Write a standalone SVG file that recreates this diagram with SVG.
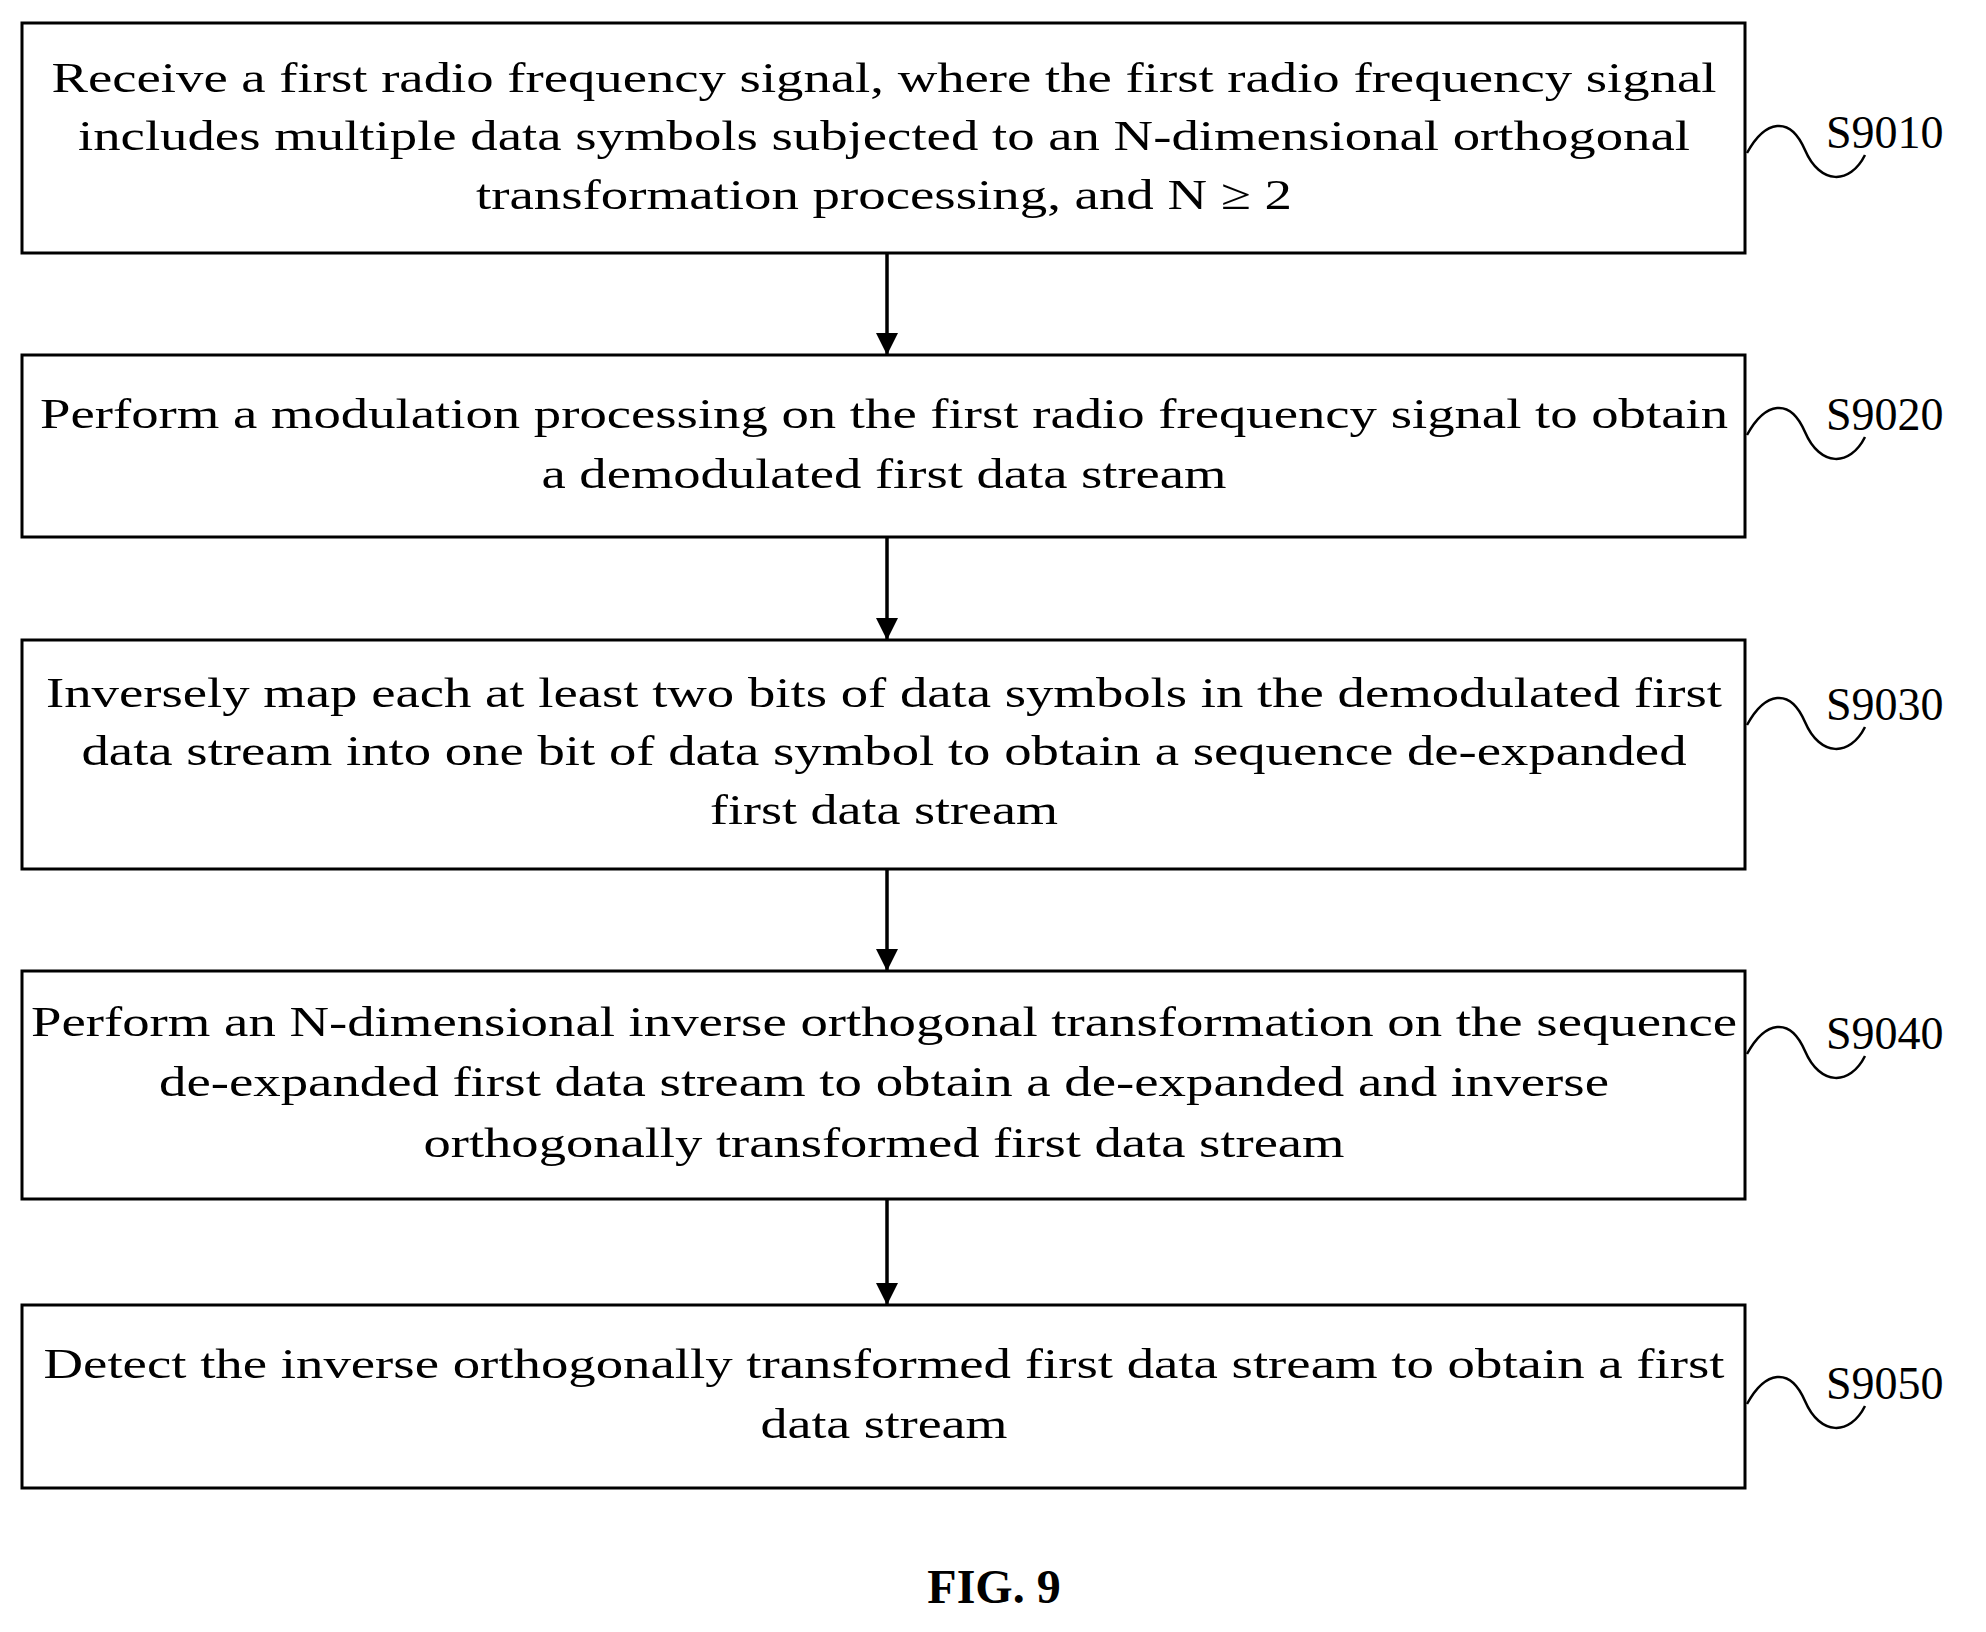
<svg xmlns="http://www.w3.org/2000/svg" width="1986" height="1632" viewBox="0 0 1986 1632">
<style>
.b{fill:#fff;stroke:#000;stroke-width:3}
.t{font-family:"Liberation Serif",serif;font-size:43px;text-anchor:middle;fill:#000}
.l{font-family:"Liberation Serif",serif;font-size:46px;fill:#000}
.w{fill:none;stroke:#000;stroke-width:2.5}
</style>
<defs>
<marker id="a2" viewBox="0 0 10 10" refX="10" refY="5" markerWidth="22" markerHeight="26" orient="auto" markerUnits="userSpaceOnUse"><path d="M0,0L10,5L0,10z"/></marker></defs>
<rect width="1986" height="1632" fill="#fff"/>
<g id="n1"><rect class="b" x="22" y="23" width="1723" height="230"/>
<text class="t" x="884" y="92" textLength="1665" lengthAdjust="spacingAndGlyphs">Receive a first radio frequency signal, where the first radio frequency signal</text>
<text class="t" x="884" y="150" textLength="1612" lengthAdjust="spacingAndGlyphs">includes multiple data symbols subjected to an N-dimensional orthogonal</text>
<text class="t" x="884" y="209" textLength="816" lengthAdjust="spacingAndGlyphs">transformation processing, and N ≥ 2</text>
<path class="w" d="M1747,153 C1765,120 1790,115 1805,150 S1850,185 1865,155"/><text class="l" x="1826" y="148">S9010</text></g>
<g id="n2"><rect class="b" x="22" y="355" width="1723" height="182"/>
<text class="t" x="884" y="428" textLength="1688" lengthAdjust="spacingAndGlyphs">Perform a modulation processing on the first radio frequency signal to obtain</text>
<text class="t" x="884" y="488" textLength="685" lengthAdjust="spacingAndGlyphs">a demodulated first data stream</text>
<path class="w" d="M1747,435 C1765,402 1790,397 1805,432 S1850,467 1865,437"/><text class="l" x="1826" y="430">S9020</text></g>
<g id="n3"><rect class="b" x="22" y="640" width="1723" height="229"/>
<text class="t" x="884" y="707" textLength="1676" lengthAdjust="spacingAndGlyphs">Inversely map each at least two bits of data symbols in the demodulated first</text>
<text class="t" x="884" y="765" textLength="1605" lengthAdjust="spacingAndGlyphs">data stream into one bit of data symbol to obtain a sequence de-expanded</text>
<text class="t" x="884" y="824" textLength="348" lengthAdjust="spacingAndGlyphs">first data stream</text>
<path class="w" d="M1747,725 C1765,692 1790,687 1805,722 S1850,757 1865,727"/><text class="l" x="1826" y="720">S9030</text></g>
<g id="n4"><rect class="b" x="22" y="971" width="1723" height="228"/>
<text class="t" x="884" y="1036" textLength="1706" lengthAdjust="spacingAndGlyphs">Perform an N-dimensional inverse orthogonal transformation on the sequence</text>
<text class="t" x="884" y="1096" textLength="1450" lengthAdjust="spacingAndGlyphs">de-expanded first data stream to obtain a de-expanded and inverse</text>
<text class="t" x="884" y="1157" textLength="921" lengthAdjust="spacingAndGlyphs">orthogonally transformed first data stream</text>
<path class="w" d="M1747,1054 C1765,1021 1790,1016 1805,1051 S1850,1086 1865,1056"/><text class="l" x="1826" y="1049">S9040</text></g>
<g id="n5"><rect class="b" x="22" y="1305" width="1723" height="183"/>
<text class="t" x="884" y="1378" textLength="1681" lengthAdjust="spacingAndGlyphs">Detect the inverse orthogonally transformed first data stream to obtain a first</text>
<text class="t" x="884" y="1438" textLength="247" lengthAdjust="spacingAndGlyphs">data stream</text>
<path class="w" d="M1747,1404 C1765,1371 1790,1366 1805,1401 S1850,1436 1865,1406"/><text class="l" x="1826" y="1399">S9050</text></g>
<g id="connectors" stroke="#000" stroke-width="3.5">
<line x1="887" y1="253" x2="887" y2="355" marker-end="url(#a2)"/>
<line x1="887" y1="537" x2="887" y2="640" marker-end="url(#a2)"/>
<line x1="887" y1="869" x2="887" y2="971" marker-end="url(#a2)"/>
<line x1="887" y1="1199" x2="887" y2="1305" marker-end="url(#a2)"/>
</g>
<text x="994" y="1603" style="font-family:'Liberation Serif',serif;font-size:48px;font-weight:bold;text-anchor:middle">FIG. 9</text>
</svg>
